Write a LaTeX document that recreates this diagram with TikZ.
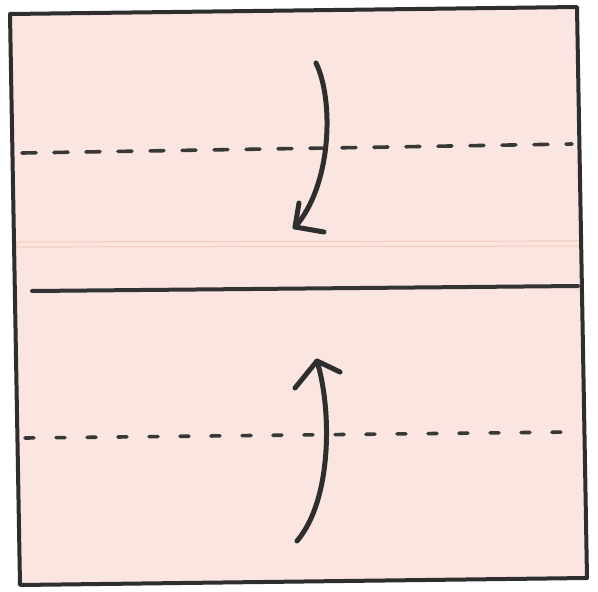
\documentclass[tikz,border=0pt]{standalone}
\begin{document}
\begin{tikzpicture}[x=1pt,y=-1pt,
  ink/.style={draw=black!82, line cap=round, line join=round},
  arrowline/.style={ink, line width=5pt},
  foldline/.style={draw=black!80, line width=4pt, line cap=round},
  dashline/.style={draw=black!78, line width=3.6pt, line cap=round}]
\definecolor{paper}{HTML}{FAE5E1}
\definecolor{crease}{HTML}{F6CEBF}
\useasboundingbox (0,0) rectangle (598,592);
\fill[white] (0,0) rectangle (598,592);
% paper square
\coordinate (tl) at (10,14);
\coordinate (tr) at (577,7);
\coordinate (br) at (587,578);
\coordinate (bl) at (20,585);
\fill[paper] (tl) -- (tr) -- (br) -- (bl) -- cycle;
% faint crease
\draw[crease, line width=1.2pt] (14,242) -- (582,241);
\draw[crease, line width=1.2pt] (14,247) -- (582,246);
% solid fold line
\coordinate (s1) at (32,291);
\coordinate (s2) at (578,286);
\draw[foldline] (s1) -- (s2);
% dashed lines
\coordinate (d1a) at (22,153);
\coordinate (d1b) at (572,144);
\draw[dashline, dash pattern=on 14pt off 18pt] (d1a) -- (d1b);
\coordinate (d2a) at (25,438);
\coordinate (d2b) at (572,432);
\draw[dashline, dash pattern=on 9pt off 22pt] (d2a) -- (d2b);
% outline
\draw[black!82, line width=4pt, line join=round] (tl) -- (tr) -- (br) -- (bl) -- cycle;
% top arrow
\coordinate (a1s) at (316,63);
\coordinate (a1t) at (295,227);
\coordinate (a1h1) at (299,203);
\coordinate (a1h2) at (324,232);
\draw[arrowline] (a1s) .. controls (334,100) and (332,185) .. (a1t);
\draw[arrowline] (a1h1) -- (a1t) -- (a1h2);
% bottom arrow
\coordinate (a2s) at (297,541);
\coordinate (a2t) at (317,361);
\coordinate (a2h1) at (295,388);
\coordinate (a2h2) at (340,372);
\draw[arrowline] (a2s) .. controls (332,500) and (332,410) .. (a2t);
\draw[arrowline] (a2h1) -- (a2t) -- (a2h2);
\end{tikzpicture}
\end{document}
